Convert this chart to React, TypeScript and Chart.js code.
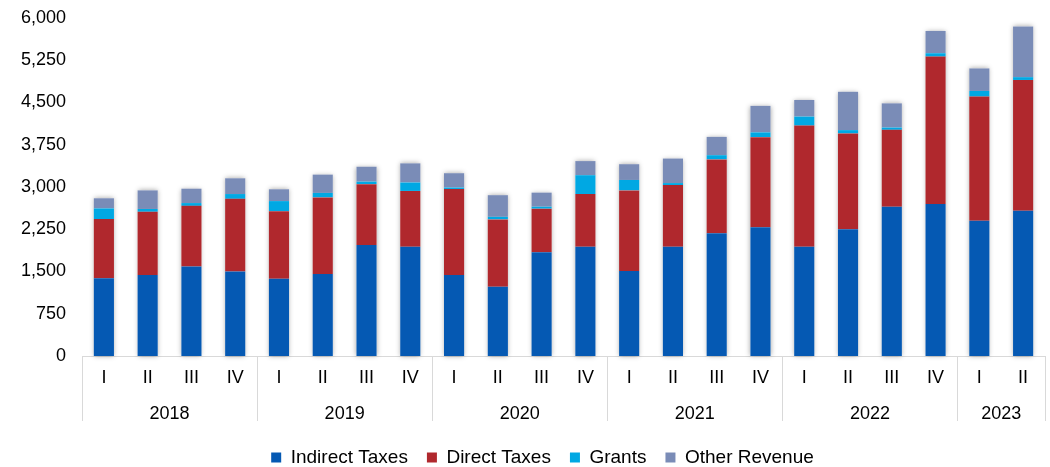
import React, { useEffect, useRef } from 'react';
import { Chart, registerables } from 'chart.js';

Chart.register(...registerables);

const quarters = ['I', 'II', 'III', 'IV', 'I', 'II', 'III', 'IV', 'I', 'II', 'III', 'IV', 'I', 'II', 'III', 'IV', 'I', 'II', 'III', 'IV', 'I', 'II'];
const years = ['2018', '2019', '2020', '2021', '2022', '2023'];
const quartersPerYear = [4, 4, 4, 4, 4, 2];

const indirectTaxes = [1380, 1440, 1590, 1500, 1370, 1455, 1970, 1940, 1440, 1230, 1840, 1940, 1510, 1940, 2180, 2285, 1940, 2250, 2650, 2700, 2400, 2580];
const directTaxes = [1050, 1120, 1075, 1290, 1200, 1360, 1080, 990, 1525, 1195, 775, 935, 1430, 1095, 1310, 1600, 2150, 1700, 1365, 2615, 2205, 2320];
const grants = [190, 50, 50, 85, 180, 80, 45, 150, 25, 45, 35, 335, 185, 35, 75, 85, 160, 60, 40, 60, 100, 50];
const otherRevenue = [180, 330, 255, 280, 210, 325, 265, 340, 255, 385, 250, 250, 280, 435, 325, 470, 295, 680, 430, 395, 400, 900];

const yTicks = [0, 750, 1500, 2250, 3000, 3750, 4500, 5250, 6000];

const FONT = "'Liberation Sans', Arial, sans-serif";

const shadowPlugin = {
  id: 'barShadow',
  beforeDatasetsDraw(chart: any) {
    const ctx = chart.ctx;
    const first = chart.getDatasetMeta(0).data;
    const last = chart.getDatasetMeta(chart.data.datasets.length - 1).data;
    ctx.save();
    ctx.shadowColor = 'rgba(0,0,0,0.35)';
    ctx.shadowBlur = 5;
    ctx.fillStyle = '#ffffff';
    for (let i = 0; i < first.length; i++) {
      const b = first[i];
      const t = last[i];
      const w = b.width;
      ctx.fillRect(b.x - w / 2, t.y, w, b.base - t.y);
    }
    ctx.restore();
  },
};

const legendShiftPlugin = {
  id: 'legendShift',
  afterLayout(chart: any) {
    const lg = chart.legend;
    if (lg) {
      lg.left += 20;
      lg.right += 20;
    }
  },
};

const groupPlugin = {
  id: 'yearGroups',
  afterDraw(chart: any) {
    const xs = chart.scales.x;
    const area = chart.chartArea;
    const ctx = chart.ctx;
    const n = quarters.length;
    const edge = (i: number) =>
      i <= 0 ? area.left : i >= n ? area.right : (xs.getPixelForValue(i - 1) + xs.getPixelForValue(i)) / 2;
    ctx.save();
    ctx.strokeStyle = '#d9d9d9';
    ctx.lineWidth = 1;
    ctx.fillStyle = '#000';
    ctx.font = `18px ${FONT}`;
    ctx.textAlign = 'center';
    ctx.textBaseline = 'middle';
    let start = 0;
    const bounds = [0];
    quartersPerYear.forEach((c) => {
      start += c;
      bounds.push(start);
    });
    bounds.forEach((b) => {
      const x = Math.round(edge(b)) + 0.5;
      ctx.beginPath();
      ctx.moveTo(x, area.bottom);
      ctx.lineTo(x, area.bottom + 65);
      ctx.stroke();
    });
    for (let g = 0; g < years.length; g++) {
      const x0 = edge(bounds[g]);
      const x1 = edge(bounds[g + 1]);
      ctx.fillText(years[g], (x0 + x1) / 2, area.bottom + 58);
    }
    ctx.restore();
  },
};

export default function App() {
  const ref = useRef<HTMLCanvasElement>(null);

  useEffect(() => {
    if (!ref.current) return;
    const common = { categoryPercentage: 1, barPercentage: 0.46, borderWidth: 0 };
    const chart = new Chart(ref.current, {
      type: 'bar',
      data: {
        labels: quarters,
        datasets: [
          { label: 'Indirect Taxes', data: indirectTaxes, backgroundColor: '#0559B3', ...common },
          { label: 'Direct Taxes', data: directTaxes, backgroundColor: '#B0282D', ...common },
          { label: 'Grants', data: grants, backgroundColor: '#00A8E3', ...common },
          { label: 'Other Revenue', data: otherRevenue, backgroundColor: '#7A8CB7', ...common },
        ],
      },
      options: {
        responsive: false,
        animation: false,
        layout: { padding: { left: 0, right: 5, top: 18, bottom: 0 } },
        plugins: {
          legend: {
            position: 'bottom',
            maxHeight: 38,
            labels: {
              boxWidth: 10,
              boxHeight: 10,
              padding: 19,
              color: '#000',
              font: { family: FONT, size: 19 },
            },
          },
          tooltip: { enabled: false },
        },
        scales: {
          x: {
            stacked: true,
            grid: { display: false, drawTicks: false },
            border: { display: true, color: '#d9d9d9', width: 1 },
            ticks: {
              color: '#000',
              font: { family: FONT, size: 18 },
              padding: 11,
              maxRotation: 0,
              autoSkip: false,
            },
            afterFit: (s: any) => {
              s.height = 73;
            },
          },
          y: {
            stacked: true,
            min: 0,
            max: 6000,
            grid: { display: false, drawTicks: false },
            border: { display: false },
            afterBuildTicks: (s: any) => {
              s.ticks = yTicks.map((v) => ({ value: v }));
            },
            ticks: {
              color: '#000',
              font: { family: FONT, size: 18 },
              padding: 16,
              callback: (v: any) => Number(v).toLocaleString('en-US'),
            },
            afterFit: (s: any) => {
              s.width = 82;
              s.paddingTop = 0;
              s.paddingBottom = 0;
            },
          },
        },
      },
      plugins: [shadowPlugin, legendShiftPlugin, groupPlugin],
    });
    return () => chart.destroy();
  }, []);

  return (
    <div style={{ position: 'fixed', left: 0, top: 0, width: 1050, height: 467, background: '#fff' }}>
      <canvas ref={ref} width={1050} height={467} />
    </div>
  );
}
